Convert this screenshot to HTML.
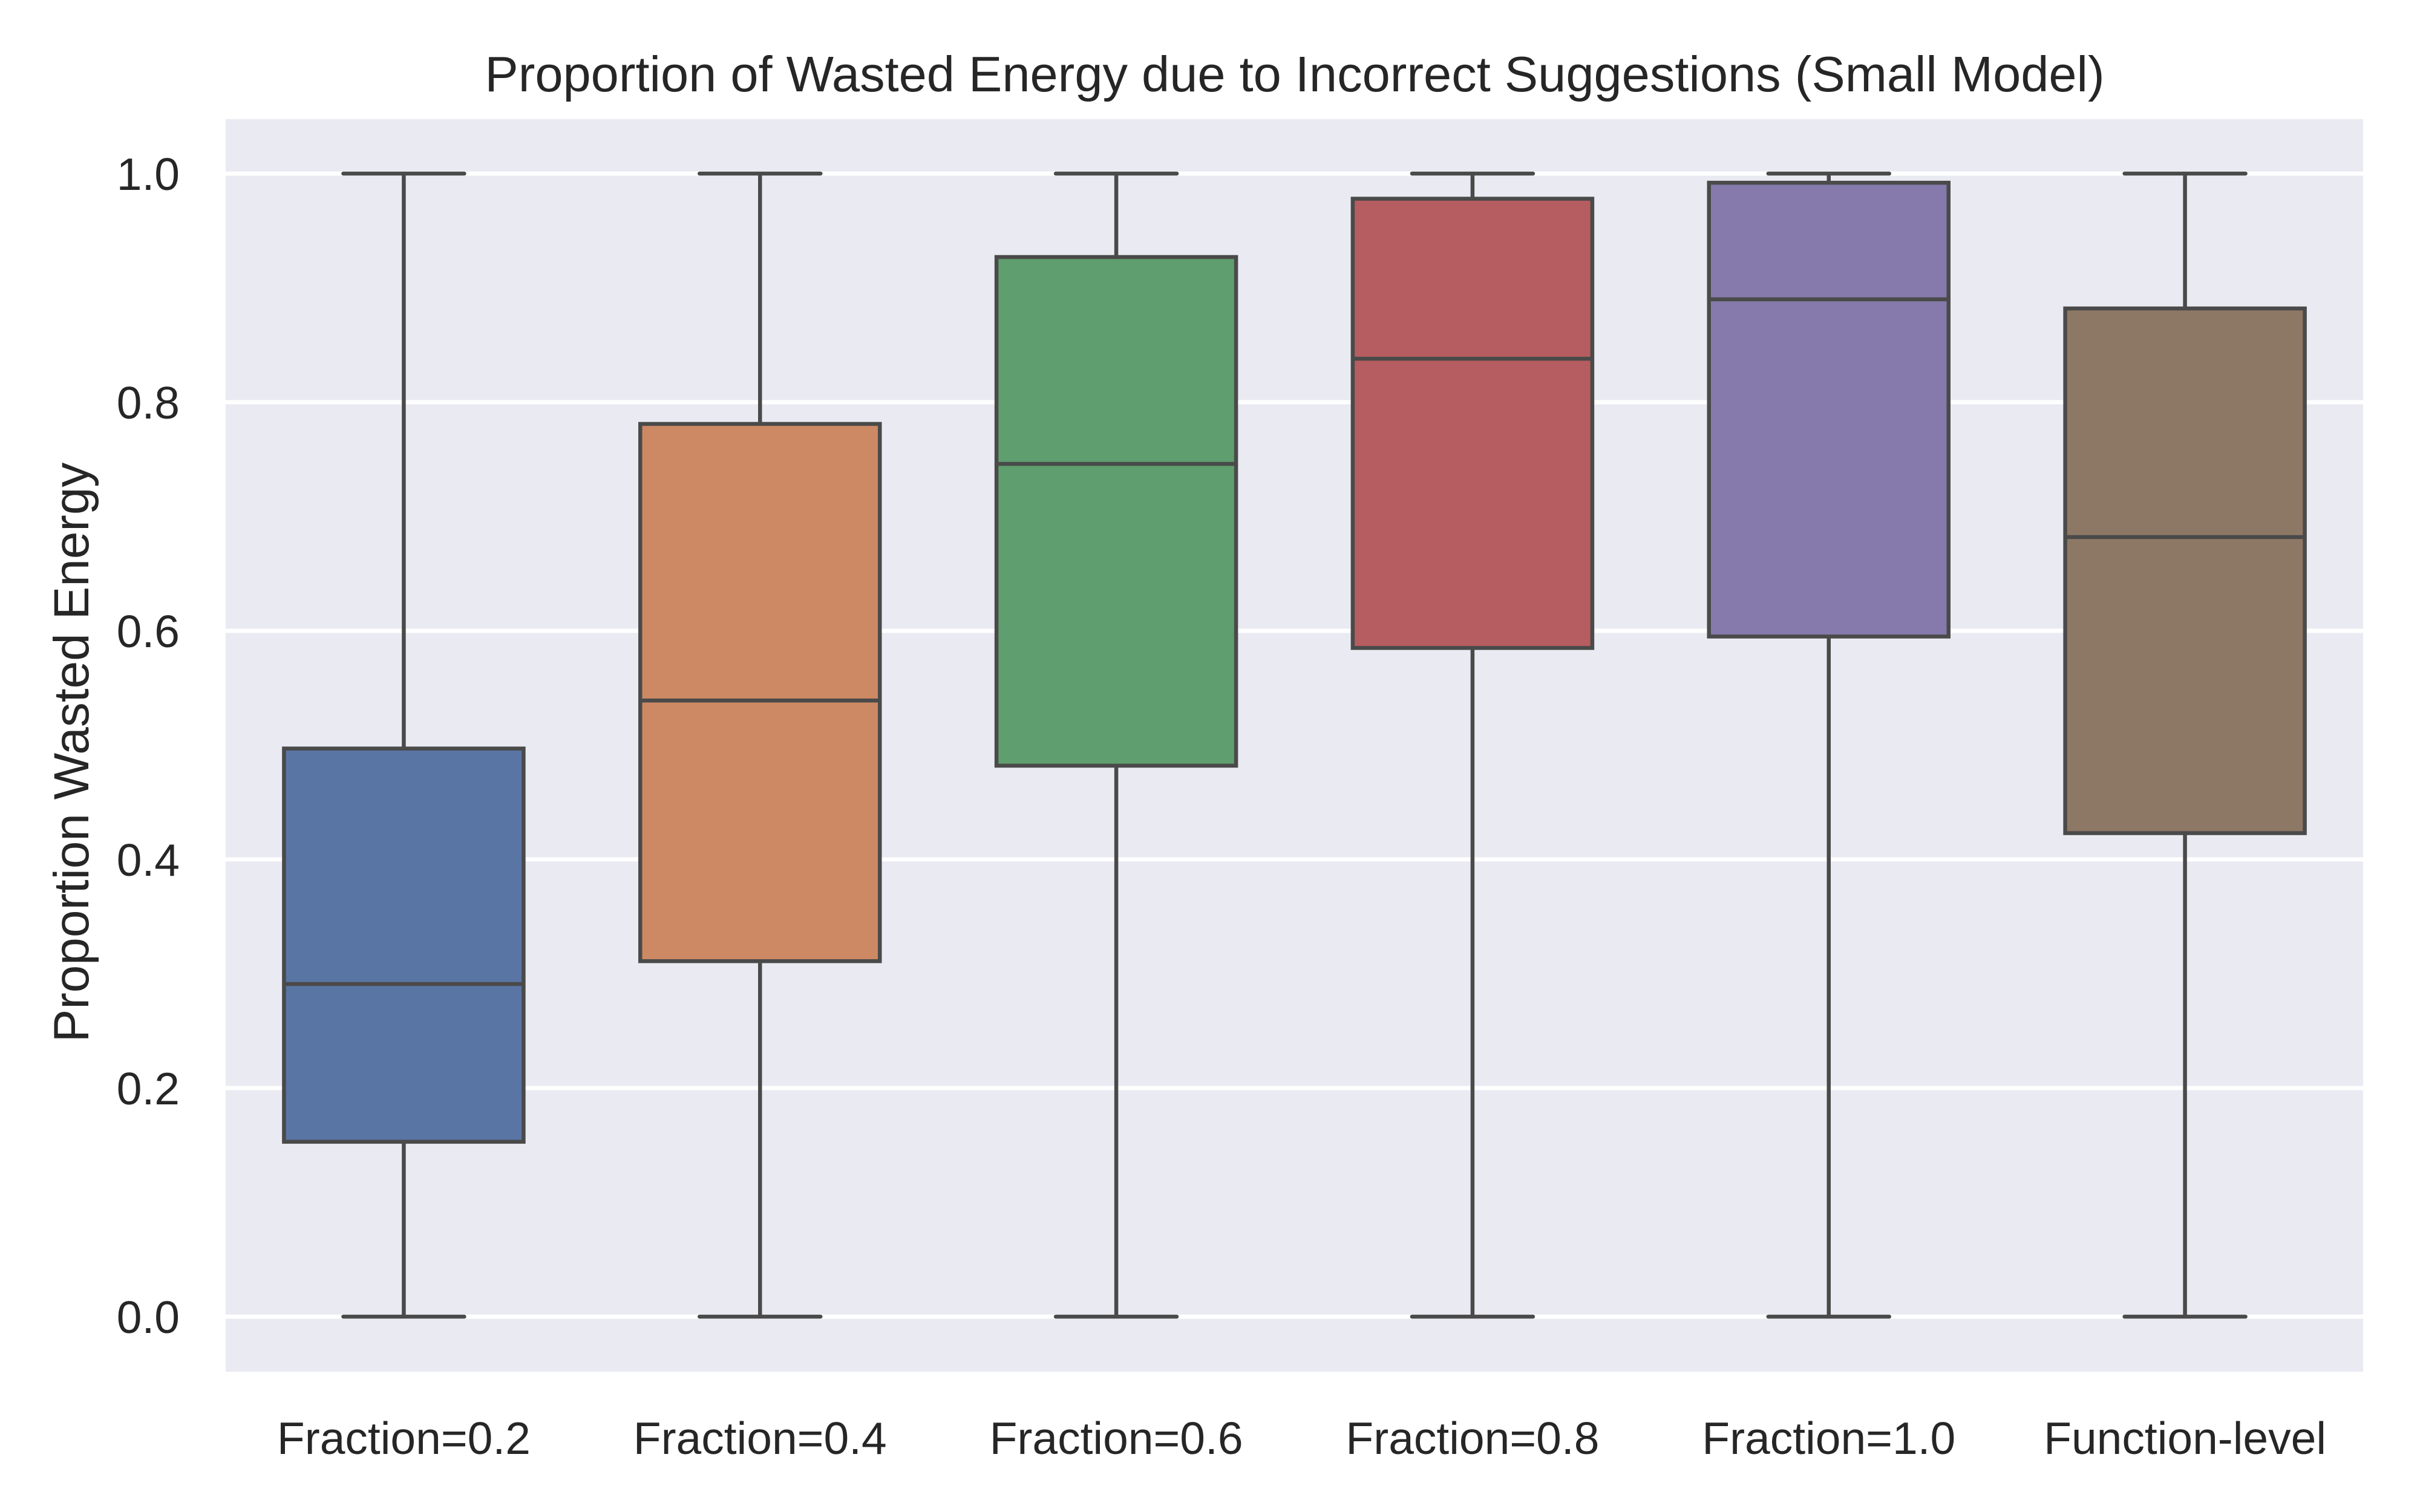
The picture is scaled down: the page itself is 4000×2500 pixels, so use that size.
<!DOCTYPE html>
<html><head><meta charset="utf-8"><style>
html,body{margin:0;padding:0;background:#fff}
svg{display:block}
text{font-family:"Liberation Sans",Arial,sans-serif;fill:#262626}
</style></head><body>
<svg id="chart" width="4000" height="2500" viewBox="0 0 4000 2500" xmlns="http://www.w3.org/2000/svg">
<rect x="373" y="197" width="3533" height="2071" fill="#eaeaf2"/>
<g id="grid"></g>
<g id="boxes"></g>
<g id="yticks"></g>
<g id="xticks"></g>
<text x="2140" y="151" font-size="83" text-anchor="middle">Proportion of Wasted Energy due to Incorrect Suggestions (Small Model)</text>
<text x="0" y="0" font-size="82" text-anchor="middle" transform="translate(146,1244) rotate(-90)">Proportion Wasted Energy</text>
</svg>
<script>
const categories = ["Fraction=0.2","Fraction=0.4","Fraction=0.6","Fraction=0.8","Fraction=1.0","Function-level"];
const whiskerLow = [0,0,0,0,0,0];
const q1 = [0.153,0.311,0.482,0.585,0.595,0.423];
const median = [0.291,0.539,0.746,0.838,0.890,0.682];
const q3 = [0.497,0.781,0.927,0.978,0.992,0.882];
const whiskerHigh = [1,1,1,1,1,1];
const yTicks = [0,0.2,0.4,0.6,0.8,1.0];
const colors = ["#5975a4","#cc8963","#5f9e6e","#b55d60","#857aab","#8d7866"];

const NS="http://www.w3.org/2000/svg";
const left=373,right=3906;
const step=(right-left)/categories.length;
function xPos(i){return left+step*(i+0.5);}
function yPos(v){return 2177-(v)*1890;}
function mk(tag,attrs,parent){const e=document.createElementNS(NS,tag);for(const k in attrs)e.setAttribute(k,attrs[k]);parent.appendChild(e);return e;}
const grid=document.getElementById('grid'),boxes=document.getElementById('boxes'),yt=document.getElementById('yticks'),xt=document.getElementById('xticks');
const lc="#4a4a4a",lw=6.5,bw=396,cw=200;
yTicks.forEach(t=>{
  const g=mk('line',{x1:left,x2:right,y1:yPos(t),y2:yPos(t),stroke:'#fff','stroke-width':7},grid);
  
  
  const tx=mk('text',{x:297,y:yPos(t)+27,'font-size':75,'text-anchor':'end'},yt);
  tx.textContent=t.toFixed(1);
  
  
});
categories.forEach((c,i)=>{
  const cx=xPos(i);
  const g=mk('g',{},boxes);
  
  
  mk('line',{x1:cx,x2:cx,y1:yPos(whiskerLow[i]),y2:yPos(q1[i]),stroke:lc,'stroke-width':lw},g);
  mk('line',{x1:cx,x2:cx,y1:yPos(q3[i]),y2:yPos(whiskerHigh[i]),stroke:lc,'stroke-width':lw},g);
  mk('line',{x1:cx-cw/2,x2:cx+cw/2,y1:yPos(whiskerLow[i]),y2:yPos(whiskerLow[i]),stroke:lc,'stroke-width':lw,'stroke-linecap':'round'},g);
  mk('line',{x1:cx-cw/2,x2:cx+cw/2,y1:yPos(whiskerHigh[i]),y2:yPos(whiskerHigh[i]),stroke:lc,'stroke-width':lw,'stroke-linecap':'round'},g);
  mk('rect',{x:cx-bw/2,y:yPos(q3[i]),width:bw,height:yPos(q1[i])-yPos(q3[i]),fill:colors[i],stroke:lc,'stroke-width':lw},g);
  mk('line',{x1:cx-bw/2,x2:cx+bw/2,y1:yPos(median[i]),y2:yPos(median[i]),stroke:lc,'stroke-width':lw},g);
  const tx=mk('text',{x:cx,y:2404,'font-size':75,'text-anchor':'middle'},xt);
  tx.textContent=c;
  
  
});
</script>
</body></html>
